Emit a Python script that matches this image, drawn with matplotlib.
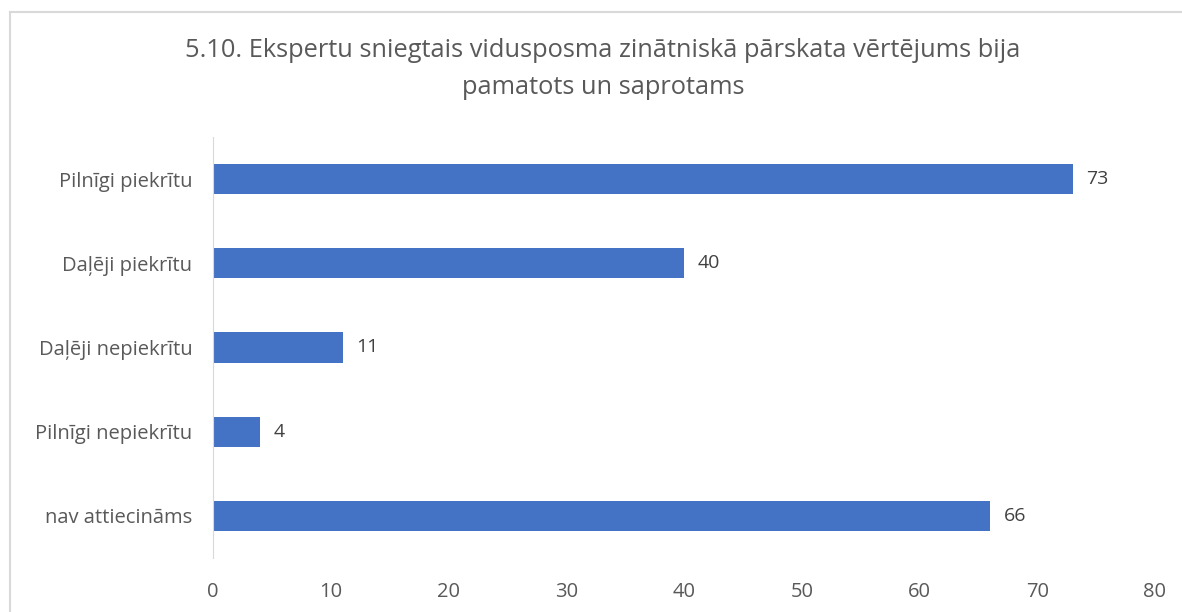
import matplotlib.pyplot as plt
from matplotlib.lines import Line2D

plt.rcParams['font.family'] = ['Open Sans', 'DejaVu Sans']

categories = ['Pilnīgi piekrītu', 'Daļēji piekrītu', 'Daļēji nepiekrītu',
              'Pilnīgi nepiekrītu', 'nav attiecināms']
values = [73, 40, 11, 4, 66]
x_ticks = [0, 10, 20, 30, 40, 50, 60, 70, 80]
title = ('5.10. Ekspertu sniegtais vidusposma zinātniskā pārskata vērtējums bija\n'
         'pamatots un saprotams')

W, H = 1182, 612
fig = plt.figure(figsize=(W / 100, H / 100), dpi=100)
ax = fig.add_axes([213 / W, 1 - 558 / H, (1155 - 213) / W, (558 - 137) / H])

ypos = list(range(len(categories)))
ax.barh(ypos, values, height=0.36, color='#4472C4')
for y, v in zip(ypos, values):
    ax.annotate(str(v), (v, y), xytext=(10, 0), textcoords='offset points',
                va='center', ha='left', fontsize=14, color='#404040')

ax.set_ylim(len(categories) - 0.5, -0.5)
ax.set_xlim(0, 80)
ax.set_xticks(x_ticks)
ax.set_yticks(ypos)
ax.set_yticklabels(categories)
ax.tick_params(axis='both', length=0, labelsize=14.5, labelcolor='#595959')
ax.tick_params(axis='x', pad=17)
ax.tick_params(axis='y', pad=15)
for s in ['top', 'right', 'bottom']:
    ax.spines[s].set_visible(False)
ax.spines['left'].set_color('#D9D9D9')

fig.text(603 / W, 1 - 69 / H, title, ha='center', va='center',
         fontsize=18.3, color='#595959', linespacing=1.68)

# chart border
fig.add_artist(Line2D([10 / W, 10 / W], [0, 1 - 12 / H], color='#D9D9D9', lw=1.5))
fig.add_artist(Line2D([10 / W, 1], [1 - 12 / H, 1 - 12 / H], color='#D9D9D9', lw=1.5))

fig.savefig('out.png', dpi=100)
